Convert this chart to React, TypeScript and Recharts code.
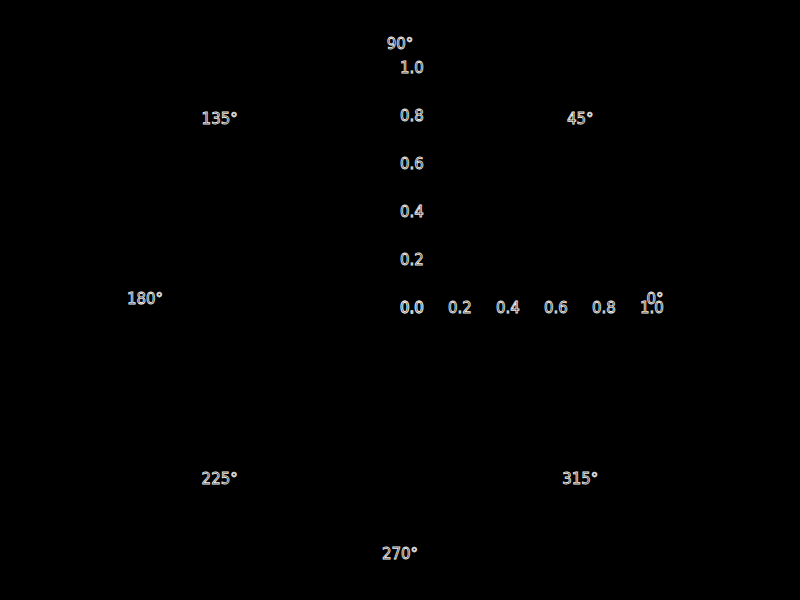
import { RadarChart, PolarAngleAxis, PolarRadiusAxis } from "recharts";

const angleTicks = [0, 45, 90, 135, 180, 225, 270, 315];
const radiusTicks = [0, 0.2, 0.4, 0.6, 0.8, 1.0];
const data = angleTicks.map((a) => ({ angle: `${a}°` }));

const textStyle = {
  fontFamily: "DejaVu Sans",
  fontSize: 15,
  fill: "#000",
  stroke: "#f2f2f2",
  strokeWidth: 0.8,
};

function AngleTick(props: any) {
  const { x, y, payload } = props;
  return (
    <text x={x} y={y} dy="0.4em" textAnchor="middle" style={textStyle}>
      {payload.value}
    </text>
  );
}

function RadiusTick(props: any) {
  const { x, y, payload } = props;
  return (
    <text x={x} y={y} dy={14.5} textAnchor="start" style={textStyle}>
      {Number(payload.value).toFixed(1)}
    </text>
  );
}

export default function App() {
  return (
    <div
      style={{
        position: "fixed",
        left: 0,
        top: 0,
        width: 800,
        height: 600,
        background: "#000",
      }}
    >
      <RadarChart
        width={800}
        height={600}
        cx={400}
        cy={298}
        innerRadius={0}
        outerRadius={240}
        startAngle={45}
        endAngle={405}
        data={data}
      >
        <PolarAngleAxis
          dataKey="angle"
          tick={<AngleTick />}
          tickSize={15}
          tickLine={false}
          axisLine={false}
        />
        <PolarRadiusAxis
          type="number"
          domain={[0, 1]}
          allowDataOverflow
          ticks={radiusTicks}
          angle={0}
          tick={<RadiusTick />}
          axisLine={false}
          tickLine={false}
        />
        <PolarRadiusAxis
          radiusAxisId="y"
          type="number"
          domain={[0, 1]}
          allowDataOverflow
          ticks={radiusTicks}
          angle={90}
          tick={<RadiusTick />}
          axisLine={false}
          tickLine={false}
        />
      </RadarChart>
    </div>
  );
}
